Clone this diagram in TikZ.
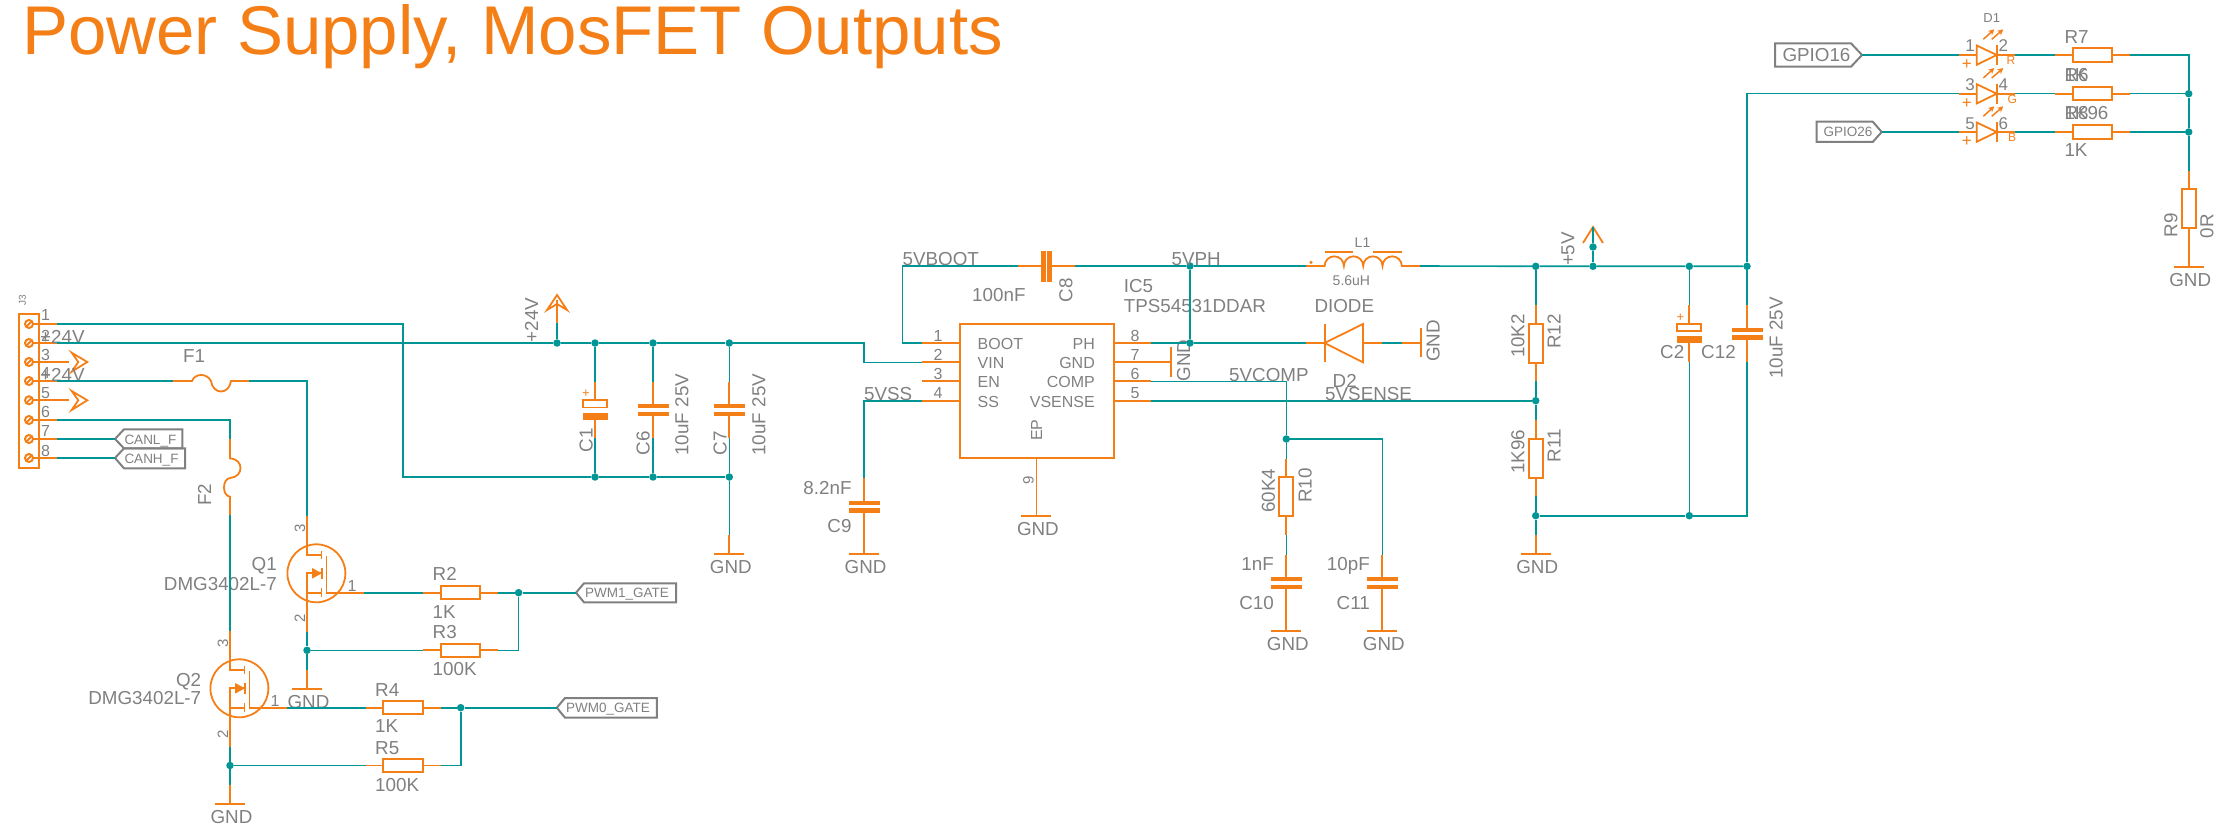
\documentclass[tikz,border=0pt]{standalone}
\usepackage{fontspec}
\setmainfont{Liberation Sans}
\usetikzlibrary{arrows.meta}

\definecolor{symorange}{HTML}{F57F17}
\definecolor{netteal}{HTML}{009696}
\definecolor{txtgray}{HTML}{808080}

\tikzset{
	wire/.style={draw=netteal,line width=1.6pt},
	lead/.style={draw=symorange,line width=1.8pt},
	flag/.style={draw=txtgray,line width=2pt},
	dot/.style={circle,fill=netteal,inner sep=0pt,minimum size=7.5pt},
	resbox/.style={draw=symorange,line width=2pt,inner sep=0pt},
	jpin/.style={circle,draw=symorange,line width=2pt,inner sep=0pt,minimum size=8pt,path picture={\draw[lead] (path picture bounding box.south west) -- (path picture bounding box.north east);}},
	lbl/.style={text=txtgray,inner sep=0pt,anchor=base west,font=\fontsize{18.8}{18.8}\selectfont},
	lblr/.style={lbl,anchor=base east},
	lblc/.style={lbl,anchor=base},
	pinlbl/.style={lblc,font=\fontsize{16}{16}\selectfont},
	lblrot/.style={lbl,anchor=center,rotate=90,text height=13.2pt,text depth=0pt},
	pinrot/.style={lblrot,font=\fontsize{15}{15}\selectfont,text height=11pt},
	flagtxt/.style={lbl,font=\fontsize{13.5}{13.5}\selectfont},
	ledtxt/.style={lblc,text=symorange,font=\fontsize{12}{12}\selectfont},
	resh/.pic={
		\coordinate (-a) at (-37.5,0);
		\coordinate (-b) at (37.5,0);
		\node[resbox,minimum width=39.6pt,minimum height=13.4pt] (-body) at (0,0) {};
		\draw[lead] (-a) -- (-body.west);
		\draw[lead] (-body.east) -- (-b);
	},
	resv/.pic={
		\coordinate (-a) at (0,-38);
		\coordinate (-b) at (0,38);
		\node[resbox,minimum width=14pt,minimum height=38.6pt] (-body) at (0,0) {};
		\draw[lead] (-a) -- (-body.north);
		\draw[lead] (-body.south) -- (-b);
	},
	capv/.pic={
		\coordinate (-a) at (0,-28.3);
		\coordinate (-b) at (0,28.3);
		\draw[lead] (-a) -- (0,-6);
		\draw[lead] (0,6) -- (-b);
		\fill[symorange] (-15.5,-6) rectangle (15.5,-1.8);
		\fill[symorange] (-15.5,1.8) rectangle (15.5,6);
	},
	pcapv/.pic={
		\coordinate (-a) at (0,-28.3);
		\coordinate (-b) at (0,28.3);
		\draw[lead] (-a) -- (0,-9.7);
		\draw[lead] (0,9.7) -- (-b);
		\draw[lead] (-12,-9.7) rectangle (12,-2.5);
		\fill[symorange] (-12.5,3) rectangle (12.5,9.8);
		\node[ledtxt,anchor=center,font=\fontsize{13}{13}\selectfont] (-plus) at (-9,-16) {+};
	},
	gndbar/.pic={
		\coordinate (-a) at (0,-19);
		\draw[lead] (-a) -- (0,0);
		\draw[lead] (-15,0) -- (15,0);
		\node[lblc] (-txt) at (1.5,19.5) {GND};
	},
	mosfet/.pic={
		\coordinate (-d) at (0,-57.3);
		\coordinate (-s) at (0,58.4);
		\coordinate (-g) at (57,19.4);
		\node[draw=symorange,line width=1.8pt,circle,inner sep=0pt,minimum size=58pt] (-ring) at (9.4,0) {};
		\draw[lead] (-d) -- (0,-18.3) -- (15,-18.3);
		\draw[lead] (14.5,-22.6) -- (14.5,-14);
		\draw[lead] (19.4,-17.3) -- (19.4,19.4) -- (-g);
		\draw[lead] (15,19.4) -- (0,19.4);
		\draw[lead] (14.5,15) -- (14.5,24);
		\draw[lead] (-s) -- (0,0) -- (15,0);
		\draw[lead] (15,-5.3) -- (15,5.3);
		\fill[symorange] (5,-5.3) -- (5,5.3) -- (15,0) -- cycle;
	},
	ledrow/.pic={
		\coordinate (-a) at (-37.7,0);
		\coordinate (-b) at (18.3,0);
		\draw[lead] (-a) -- (-20,0);
		\draw[lead] (-20,-9.5) -- (0,0) -- (-20,9.8) -- cycle;
		\draw[lead] (0,-10) -- (0,10);
		\draw[lead] (0,0) -- (-b);
		\draw[symorange,line width=1.5pt,-{Stealth[length=6pt,width=6pt]}] (-13.4,-15.7) -- (-2.4,-25.7);
		\draw[symorange,line width=1.5pt,-{Stealth[length=6pt,width=6pt]}] (-5,-15.7) -- (6.6,-25.7);
		\node[ledtxt,anchor=center,font=\fontsize{17}{17}\selectfont] (-plus) at (-30,9.5) {+};
	},
}

\begin{document}
\begin{tikzpicture}[x=1pt,y=-1pt]
	\useasboundingbox (0,0) rectangle (2234,826);
	\node[lbl,text=symorange,font=\fontsize{69}{69}\selectfont] (title) at (22.2,55) {Power Supply, MosFET Outputs};

	\node[draw=symorange,line width=2.4pt,minimum width=20pt,minimum height=154pt,inner sep=0pt] (J3) at (29,391) {};
	\node[lblrot,font=\fontsize{10}{10}\selectfont,text height=7pt] (J3name) at (22.3,300) {J3};
	\node[jpin] (p1) at (29,324) {};
	\node[jpin] (p2) at (29,343) {};
	\node[jpin] (p3) at (29,362) {};
	\node[jpin] (p4) at (29,381) {};
	\node[jpin] (p5) at (29,400.3) {};
	\node[jpin] (p6) at (29,420) {};
	\node[jpin] (p7) at (29,439) {};
	\node[jpin] (p8) at (29,458) {};
	\coordinate (J1) at (57,324);
	\coordinate (J2) at (57,343);
	\coordinate (J3a) at (69,362);
	\coordinate (J4) at (57,381);
	\coordinate (J5) at (69,400.3);
	\coordinate (J6) at (57,420);
	\coordinate (J7) at (57,439);
	\coordinate (J8) at (57,458);
	\draw[lead] (p1) -- (J1);
	\draw[lead] (p2) -- (J2);
	\draw[lead] (p3) -- (J3a);
	\draw[lead] (p4) -- (J4);
	\draw[lead] (p5) -- (J5);
	\draw[lead] (p6) -- (J6);
	\draw[lead] (p7) -- (J7);
	\draw[lead] (p8) -- (J8);
	\draw[lead] (71.7,352.7) -- (87.3,362) -- (71.7,371.7) -- (78.3,362) -- cycle;
	\draw[lead] (71.7,391) -- (87.3,400.3) -- (71.7,410) -- (78.3,400.3) -- cycle;
	\node[lbl,font=\fontsize{16}{16}\selectfont] (n1) at (41,320.7) {1};
	\node[lbl,font=\fontsize{16}{16}\selectfont] (n2) at (41,341) {2};
	\node[lbl,font=\fontsize{16}{16}\selectfont] (n3) at (41,360) {3};
	\node[lbl,font=\fontsize{16}{16}\selectfont] (n4) at (41,378.5) {4};
	\node[lbl,font=\fontsize{16}{16}\selectfont] (n5) at (41,398) {5};
	\node[lbl,font=\fontsize{16}{16}\selectfont] (n6) at (41,417) {6};
	\node[lbl,font=\fontsize{16}{16}\selectfont] (n7) at (41,436.7) {7};
	\node[lbl,font=\fontsize{16}{16}\selectfont] (n8) at (41,456) {8};
	\node[lbl] (p24a) at (40,343) {+24V};
	\node[lbl] (p24b) at (40,381.6) {+24V};

	\coordinate (flagl) at (115,439);
	\coordinate (flagh) at (115,458);
	\draw[flag] (flagl) -- (124,429.3) -- (182.3,429.3) -- (182.3,448.3) -- (124,448.3) -- cycle;
	\draw[flag] (flagh) -- (124,448.3) -- (185,448.3) -- (185,468.3) -- (124,468.3) -- cycle;
	\node[flagtxt] (canl) at (124.3,444) {CANL\_F};
	\node[flagtxt] (canh) at (124.3,463) {CANH\_F};
	\draw[wire] (J7) -- (flagl);
	\draw[wire] (J8) -- (flagh);

	\coordinate (F1a) at (173,381);
	\coordinate (F1b) at (249,381);
	\draw[lead] (F1a) -- (192,381) .. controls (195,373) and (207,373) .. (211,381) .. controls (213,395) and (229,395) .. (231,381) -- (F1b);
	\node[lbl] (F1) at (183,362) {F1};
	\coordinate (F2a) at (230,439);
	\coordinate (F2b) at (230,515);
	\draw[lead] (F2a) -- (230,458.3) .. controls (244,459) and (244,477) .. (230,478) .. controls (222,479) and (222,496) .. (230,496.7) -- (F2b);
	\node[lblrot] (F2) at (204.5,495) {F2};

	\pic (Q1) at (307,573.3) {mosfet};
	\pic (Q2) at (230,688.3) {mosfet};
	\node[pinrot] (q1n3) at (299.6,528) {3};
	\node[pinrot] (q1n2) at (299.6,618) {2};
	\node[pinlbl] (q1n1) at (352,591) {1};
	\node[pinrot] (q2n3) at (222.5,643) {3};
	\node[pinrot] (q2n2) at (222.5,734) {2};
	\node[pinlbl] (q2n1) at (275,706) {1};
	\node[lblr] (Q1name) at (277,570.7) {Q1};
	\node[lblr] (Q1val) at (277,590) {DMG3402L-7};
	\node[lblr] (Q2name) at (201.4,686) {Q2};
	\node[lblr] (Q2val) at (201.4,704.3) {DMG3402L-7};
	\draw[wire] (J4) -- (F1a);
	\draw[wire] (F1b) -| (Q1-d);
	\draw[wire] (J6) -| (F2a);
	\draw[wire] (F2b) -- (Q2-d);

	\pic (R2) at (460.5,592.7) {resh};
	\pic (R3) at (460.5,650.3) {resh};
	\pic (R4) at (403,707.7) {resh};
	\pic (R5) at (403,765.5) {resh};
	\node[dot] (jq1s) at (307,650.3) {};
	\node[dot] (jq1g) at (518.6,592.7) {};
	\node[dot] (jq2s) at (230,765.5) {};
	\node[dot] (jq2g) at (460.7,707.7) {};
	\pic (G1) at (307,689) {gndbar};
	\pic (G2) at (230,804) {gndbar};
	\draw[wire] (Q1-s) -- (jq1s);
	\draw[wire] (jq1s) -- (G1-a);
	\draw[wire] (jq1s) -- (R3-a);
	\draw[wire] (Q1-g) -- (R2-a);
	\draw[wire] (R2-b) -- (jq1g);
	\draw[wire] (R3-b) -| (jq1g);
	\draw[wire] (Q2-s) -- (jq2s);
	\draw[wire] (jq2s) -- (G2-a);
	\draw[wire] (jq2s) -- (R5-a);
	\draw[wire] (Q2-g) -- (R4-a);
	\draw[wire] (R4-b) -- (jq2g);
	\draw[wire] (R5-b) -| (jq2g);
	\node[lbl] (R2name) at (432.5,580.7) {R2};
	\node[lbl] (R2val) at (432.5,618.3) {1K};
	\node[lbl] (R3name) at (432.5,638.7) {R3};
	\node[lbl] (R3val) at (432.5,675) {100K};
	\node[lbl] (R4name) at (375,696.7) {R4};
	\node[lbl] (R4val) at (375,732.7) {1K};
	\node[lbl] (R5name) at (375,754) {R5};
	\node[lbl] (R5val) at (375,791) {100K};

	\coordinate (flagp1) at (576,592.7);
	\coordinate (flagp0) at (556.8,707.7);
	\draw[flag] (flagp1) -- (584,583.3) -- (676,583.3) -- (676,602.3) -- (584,602.3) -- cycle;
	\draw[flag] (flagp0) -- (565,698) -- (656.8,698) -- (656.8,717.7) -- (565,717.7) -- cycle;
	\node[flagtxt] (pwm1) at (585,597.7) {PWM1\_GATE};
	\node[flagtxt] (pwm0) at (566,712.7) {PWM0\_GATE};
	\draw[wire] (jq1g) -- (flagp1);
	\draw[wire] (jq2g) -- (flagp0);

	\node[dot] (jp24) at (557,343) {};
	\node[dot] (jc1t) at (595,343) {};
	\node[dot] (jc6t) at (653,343) {};
	\node[dot] (jc7t) at (729.3,343) {};
	\node[dot] (jc1b) at (595,477) {};
	\node[dot] (jc6b) at (653,477) {};
	\node[dot] (jc7b) at (729.3,477) {};
	\pic (C1) at (595,410) {pcapv};
	\pic (C6) at (653,410) {capv};
	\pic (C7) at (729.3,410) {capv};
	\pic (G3) at (729.3,554) {gndbar};
	\coordinate (sup24) at (557,323);
	\draw[lead] (sup24) -- (557,300);
	\draw[lead] (557,295) -- (567,310) -- (557,304) -- (547,310) -- cycle;
	\draw[wire] (jp24) -- (sup24);
	\node[lblrot] (sup24txt) at (531.5,320) {+24V};
	\draw[wire] (jc1t) -- (C1-a);
	\draw[wire] (jc6t) -- (C6-a);
	\draw[wire] (jc7t) -- (C7-a);
	\draw[wire] (C1-b) -- (jc1b);
	\draw[wire] (C6-b) -- (jc6b);
	\draw[wire] (C7-b) -- (jc7b);
	\draw[wire] (jc7b) -- (G3-a);
	\draw[wire] (J1) -| (403,477) -- (jc1b) -- (jc6b) -- (jc7b);
	\node[lblrot] (C1name) at (586,440) {C1};
	\node[lblrot] (C6name) at (643,443) {C6};
	\node[lblrot] (C6val) at (681.7,414.7) {10uF 25V};
	\node[lblrot] (C7name) at (720,443) {C7};
	\node[lblrot] (C7val) at (758.7,414.7) {10uF 25V};

	\node[draw=symorange,line width=2.2pt,inner sep=0pt,minimum width=153.6pt,minimum height=134pt] (IC5) at (1036.8,391.3) {};
	\coordinate (ic1) at (922,343);
	\coordinate (ic2) at (922,362.3);
	\coordinate (ic3) at (922,381.3);
	\coordinate (ic4) at (922,400.7);
	\coordinate (ic8) at (1151.4,343);
	\coordinate (ic7) at (1171,362.3);
	\coordinate (ic6) at (1151.4,381.3);
	\coordinate (ic5p) at (1151.4,400.7);
	\draw[lead] (ic1) -- (ic1 -| IC5.west);
	\draw[lead] (ic2) -- (ic2 -| IC5.west);
	\draw[lead] (ic3) -- (ic3 -| IC5.west);
	\draw[lead] (ic4) -- (ic4 -| IC5.west);
	\draw[lead] (ic8) -- (ic8 -| IC5.east);
	\draw[lead] (ic7) -- (ic7 -| IC5.east);
	\draw[lead] (ic6) -- (ic6 -| IC5.east);
	\draw[lead] (ic5p) -- (ic5p -| IC5.east);
	\draw[lead] (1171,347.3) -- (1171,376.7);
	\node[pinlbl] (ic1n) at (938,341.7) {1};
	\node[pinlbl] (ic2n) at (938,360.7) {2};
	\node[pinlbl] (ic3n) at (938,379.7) {3};
	\node[pinlbl] (ic4n) at (938,398.7) {4};
	\node[pinlbl] (ic8n) at (1135,341.7) {8};
	\node[pinlbl] (ic7n) at (1135,360.7) {7};
	\node[pinlbl] (ic6n) at (1135,379.7) {6};
	\node[pinlbl] (ic5n) at (1135,398.7) {5};
	\node[lbl,font=\fontsize{16}{16}\selectfont] (boot) at (977.5,349.3) {BOOT};
	\node[lbl,font=\fontsize{16}{16}\selectfont] (vin) at (977.5,368.3) {VIN};
	\node[lbl,font=\fontsize{16}{16}\selectfont] (en) at (977.5,387.7) {EN};
	\node[lbl,font=\fontsize{16}{16}\selectfont] (ss) at (977.5,407.3) {SS};
	\node[lblr,font=\fontsize{16}{16}\selectfont] (ph) at (1095,349.3) {PH};
	\node[lblr,font=\fontsize{16}{16}\selectfont] (icgnd) at (1095,368.3) {GND};
	\node[lblr,font=\fontsize{16}{16}\selectfont] (comp) at (1095,387.7) {COMP};
	\node[lblr,font=\fontsize{16}{16}\selectfont] (vsense) at (1095,407.3) {VSENSE};
	\node[lblrot,font=\fontsize{16}{16}\selectfont,text height=11.5pt] (ep) at (1036.4,430) {EP};
	\node[pinrot] (ic9n) at (1028,480) {9};
	\pic (G4) at (1036.4,516) {gndbar};
	\draw[lead] (G4-a) -- (G4-a |- IC5.south);
	\node[lblrot] (gnd7) at (1183.6,360.7) {GND};
	\node[lbl] (ic5name) at (1123.6,292) {IC5};
	\node[lbl] (ic5val) at (1123.6,312) {TPS54531DDAR};
	\draw[wire] (jc7t) -- (864,343) |- (ic2);
	\draw[wire] (J2) -- (jp24) -- (jc1t) -- (jc6t) -- (jc7t);

	\pic (C9) at (864,506.5) {capv};
	\pic (G5) at (864,554) {gndbar};
	\draw[lead] (C9-b) -- (G5-a);
	\draw[wire] (ic4) -| (C9-a);
	\node[lbl] (vss) at (864,400) {5VSS};
	\node[lblr] (C9val) at (851.7,494) {8.2nF};
	\node[lblr] (C9name) at (851.7,532.3) {C9};

	\coordinate (C8a) at (1017.9,266);
	\coordinate (C8b) at (1074.6,266);
	\draw[lead] (C8a) -- (1041,266);
	\draw[lead] (1052,266) -- (C8b);
	\fill[symorange] (1040.7,251) rectangle (1045.7,282);
	\fill[symorange] (1046.8,251) rectangle (1052,282);
	\draw[wire] (ic1) -| (902.5,266) -- (C8a);
	\node[lbl] (vboot) at (902.5,265.7) {5VBOOT};
	\node[lbl] (C8val) at (972,301.7) {100nF};
	\node[lblrot] (C8name) at (1065.7,290) {C8};

	\node[dot] (jph) at (1190,266) {};
	\node[dot] (jpsw) at (1190,343) {};
	\node[lbl] (vph) at (1171.4,265.7) {5VPH};
	\draw[wire] (C8b) -- (jph);
	\draw[wire] (jph) -- (jpsw);
	\draw[wire] (ic8) -- (jpsw);

	\coordinate (L1a) at (1305.7,266);
	\coordinate (L1b) at (1420,266);
	\draw[lead] (L1a) -- (1324.6,266) arc[start angle=180,end angle=0,radius=9.65pt] arc[start angle=180,end angle=0,radius=9.65pt] arc[start angle=180,end angle=0,radius=9.65pt] arc[start angle=180,end angle=0,radius=9.65pt] -- (L1b);
	\draw[lead] (1324.6,251.7) -- (1353,251.7);
	\draw[lead] (1373,251.7) -- (1402,251.7);
	\node[circle,fill=symorange,inner sep=0pt,minimum size=3.5pt] (L1dot) at (1311,262.3) {};
	\node[lblc,font=\fontsize{14}{14}\selectfont] (L1name) at (1362.5,247.3) {L1};
	\node[lblc,font=\fontsize{14}{14}\selectfont] (L1val) at (1351.4,286) {5.6uH};
	\draw[wire] (jph) -- (L1a);

	\coordinate (D2a) at (1305.7,343);
	\coordinate (D2b) at (1381.8,343);
	\coordinate (gndda) at (1402,343);
	\coordinate (gnddb) at (1421,343);
	\draw[lead] (D2a) -- (1324.6,343);
	\draw[lead] (1324.6,324) -- (1324.6,362.3);
	\draw[lead] (1324.6,343) -- (1362.9,324) -- (1362.9,362.3) -- cycle;
	\draw[lead] (1362.9,343) -- (D2b);
	\draw[lead] (gndda) -- (gnddb);
	\draw[lead] (1421,328) -- (1421,357.3);
	\draw[wire] (jpsw) -- (D2a);
	\draw[wire] (D2b) -- (gndda);
	\node[lbl] (D2val) at (1314.3,312) {DIODE};
	\node[lbl] (D2name) at (1332.5,387.3) {D2};
	\node[lblrot] (gndd) at (1433,341) {GND};

	\node[dot] (jcomp) at (1286.3,439) {};
	\pic (R10) at (1286.3,496.7) {resv};
	\pic (C10) at (1286.3,583) {capv};
	\pic (C11) at (1382.3,583) {capv};
	\pic (G6) at (1286.3,631) {gndbar};
	\pic (G7) at (1382.3,631) {gndbar};
	\draw[lead] (C10-b) -- (G6-a);
	\draw[lead] (C11-b) -- (G7-a);
	\draw[wire] (ic6) -| (jcomp);
	\draw[wire] (jcomp) -- (R10-a);
	\draw[wire] (R10-b) -- (C10-a);
	\draw[wire] (jcomp) -| (C11-a);
	\node[lbl] (vcomp) at (1229,381.7) {5VCOMP};
	\node[lbl] (vsns) at (1325,400) {5VSENSE};
	\node[lblrot] (R10val) at (1268.3,490.5) {60K4};
	\node[lblrot] (R10name) at (1305,485.7) {R10};
	\node[lblr] (C10val) at (1274,570.7) {1nF};
	\node[lblr] (C10name) at (1274,609) {C10};
	\node[lblr] (C11val) at (1370,570.7) {10pF};
	\node[lblr] (C11name) at (1370,609) {C11};

	\node[dot] (j5a) at (1535.7,266.3) {};
	\node[dot] (j5v) at (1593,266.3) {};
	\node[dot] (j5s) at (1593,247) {};
	\node[dot] (jc2t) at (1689.3,266.3) {};
	\node[dot] (jc12t) at (1747,266.3) {};
	\node[dot] (jfb) at (1535.7,400.7) {};
	\node[dot] (j11b) at (1535.7,515.7) {};
	\node[dot] (jc2b) at (1689.3,515.7) {};
	\pic (R12) at (1535.7,343.2) {resv};
	\pic (R11) at (1535.7,458.3) {resv};
	\pic (G8) at (1535.7,554) {gndbar};
	\pic (C2) at (1689.3,333.3) {pcapv};
	\pic (C12) at (1747,333.5) {capv};
	\coordinate (sup5) at (1593,227);
	\draw[lead] (1583,243) -- (sup5) -- (1603,243);
	\draw[wire] (j5v) -- (j5s) -- (sup5);
	\draw[wire] (L1b) -- (j5a) -- (j5v) -- (jc2t) -- (jc12t);
	\draw[wire] (j5a) -- (R12-a);
	\draw[wire] (R12-b) -- (jfb);
	\draw[wire] (jfb) -- (R11-a);
	\draw[wire] (R11-b) -- (j11b);
	\draw[wire] (j11b) -- (G8-a);
	\draw[wire] (ic5p) -- (jfb);
	\draw[wire] (jc2t) -- (C2-a);
	\draw[wire] (C2-b) -- (jc2b);
	\draw[wire] (jc12t) -- (C12-a);
	\draw[wire] (C12-b) |- (jc2b);
	\draw[wire] (jc2b) -- (j11b);
	\node[lblrot] (sup5txt) at (1567.7,249) {+5V};
	\node[lblrot] (R12val) at (1517.7,336) {10K2};
	\node[lblrot] (R12name) at (1554,331.7) {R12};
	\node[lblrot] (R11val) at (1517.7,451.5) {1K96};
	\node[lblrot] (R11name) at (1554,446) {R11};
	\node[lbl] (C2name) at (1660,358.7) {C2};
	\node[lbl] (C12name) at (1701,358.7) {C12};
	\node[lblrot] (C12val) at (1776,338) {10uF 25V};

	\pic (LR) at (1996.7,55) {ledrow};
	\pic (LG) at (1996.7,93.7) {ledrow};
	\pic (LB) at (1996.7,132) {ledrow};
	\pic (R7) at (2092.5,55) {resh};
	\pic (R6) at (2092.5,93.7) {resh};
	\pic (R8) at (2092.5,132) {resh};
	\node[dot] (jr6) at (2188.7,93.7) {};
	\node[dot] (jr8) at (2188.7,132) {};
	\pic (R9) at (2188.7,208.7) {resv};
	\pic (G9) at (2188.7,266.7) {gndbar};
	\coordinate (flag16) at (1862,55);
	\coordinate (flag26) at (1881.7,132);
	\draw[flag] (flag16) -- (1851,43.3) -- (1775,43.3) -- (1775,66.7) -- (1851,66.7) -- cycle;
	\draw[flag] (flag26) -- (1872.7,121.7) -- (1816.7,121.7) -- (1816.7,142) -- (1872.7,142) -- cycle;
	\node[lbl] (gpio16) at (1782.3,61.5) {GPIO16};
	\node[flagtxt] (gpio26) at (1823.3,137) {GPIO26};
	\draw[wire] (flag16) -- (LR-a);
	\draw[wire] (flag26) -- (LB-a);
	\draw[wire] (jc12t) |- (LG-a);
	\draw[wire] (LR-b) -- (R7-a);
	\draw[wire] (LG-b) -- (R6-a);
	\draw[wire] (LB-b) -- (R8-a);
	\draw[wire] (R7-b) -| (jr6);
	\draw[wire] (R6-b) -- (jr6);
	\draw[wire] (R8-b) -- (jr8);
	\draw[wire] (jr6) -- (jr8) -- (R9-a);
	\draw[lead] (R9-b) -- (G9-a);
	\node[lblc,font=\fontsize{13}{13}\selectfont] (D1name) at (1991.7,22.7) {D1};
	\node[pinlbl,font=\fontsize{17}{17}\selectfont] (ln1) at (1970,51.7) {1};
	\node[pinlbl,font=\fontsize{17}{17}\selectfont] (ln2) at (2003.3,51.7) {2};
	\node[pinlbl,font=\fontsize{17}{17}\selectfont] (ln3) at (1970,91) {3};
	\node[pinlbl,font=\fontsize{17}{17}\selectfont] (ln4) at (2003.3,91) {4};
	\node[pinlbl,font=\fontsize{17}{17}\selectfont] (ln5) at (1970,129.3) {5};
	\node[pinlbl,font=\fontsize{17}{17}\selectfont] (ln6) at (2003.3,129.3) {6};
	\node[ledtxt] (lr) at (2011,65) {R};
	\node[ledtxt] (lg) at (2012.3,103.5) {G};
	\node[ledtxt] (lb) at (2012,141.5) {B};
	\node[lbl] (R7name) at (2064.3,44) {R7};
	\node[lbl] (R7val) at (2064.3,82) {1K};
	\node[lbl] (R6name) at (2064.3,82) {R6};
	\node[lbl] (R6val) at (2064.3,120) {1K96};
	\node[lbl] (R8name) at (2064.3,120) {R8};
	\node[lbl] (R8val) at (2064.3,157) {1K};
	\node[lblrot] (R9name) at (2170.7,225) {R9};
	\node[lblrot] (R9val) at (2206.7,226) {0R};
\end{tikzpicture}
\end{document}
